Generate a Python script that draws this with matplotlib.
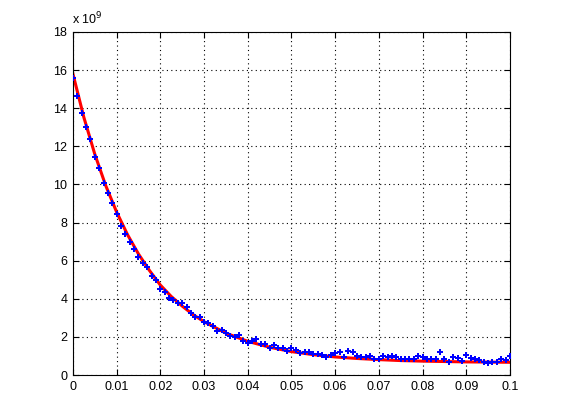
import matplotlib
matplotlib.use('Agg')
import matplotlib.pyplot as plt
import numpy as np

# measured points (values in units of 1e9)
x_data = np.arange(101) * 0.001
y_data = [15.6, 14.65, 13.73, 13.03, 12.38, 11.44, 10.84, 10.10, 9.53, 9.05,
          8.44, 7.83, 7.38, 6.99, 6.63, 6.17, 5.89, 5.68, 5.21, 4.98,
          4.51, 4.34, 4.06, 3.94, 3.79, 3.76, 3.58, 3.24, 3.06, 3.03,
          2.80, 2.71, 2.59, 2.31, 2.34, 2.19, 2.05, 2.01, 2.08, 1.78,
          1.68, 1.78, 1.88, 1.61, 1.61, 1.40, 1.59, 1.40, 1.40, 1.28,
          1.40, 1.31, 1.14, 1.19, 1.19, 1.10, 1.10, 1.05, 0.96, 1.03,
          1.14, 1.22, 0.93, 1.28, 1.19, 1.00, 0.93, 0.93, 1.00, 0.86,
          0.86, 1.00, 0.93, 0.98, 0.93, 0.84, 0.86, 0.84, 0.84, 1.00,
          0.93, 0.86, 0.84, 0.84, 1.21, 0.84, 0.67, 0.96, 0.88, 0.73,
          1.03, 0.88, 0.84, 0.79, 0.67, 0.61, 0.70, 0.67, 0.82, 0.79,
          1.00]

# fitted curve
x_fit = [0, 0.0025, 0.005, 0.0075, 0.01, 0.0125, 0.015, 0.0175, 0.02, 0.0225,
         0.025, 0.0275, 0.03, 0.035, 0.04, 0.045, 0.05, 0.055, 0.06, 0.065,
         0.07, 0.075, 0.08, 0.085, 0.09, 0.095, 0.1]
y_fit = [15.8, 13.52, 11.59, 9.94, 8.55, 7.36, 6.35, 5.49, 4.72, 4.12,
         3.62, 3.17, 2.80, 2.20, 1.77, 1.46, 1.23, 1.07, 0.95, 0.87,
         0.81, 0.76, 0.73, 0.71, 0.69, 0.68, 0.67]

x_ticks = [0, 0.01, 0.02, 0.03, 0.04, 0.05, 0.06, 0.07, 0.08, 0.09, 0.1]
x_labels = ['0', '0.01', '0.02', '0.03', '0.04', '0.05', '0.06', '0.07', '0.08', '0.09', '0.1']
y_ticks = [0, 2, 4, 6, 8, 10, 12, 14, 16, 18]

plt.rcParams['font.family'] = ['Liberation Sans', 'DejaVu Sans']

fig = plt.figure(figsize=(5.61, 4.2), dpi=100)
ax = fig.add_axes([0.130, 0.107, 0.779, 0.817])

ax.plot(x_fit, y_fit, color='red', linewidth=2.2, zorder=2)
ax.plot(x_data, y_data, linestyle='none', marker='P', markersize=4.8,
        color='blue', markeredgewidth=0, zorder=3)

ax.set_xlim(0, 0.1)
ax.set_ylim(0, 18)
ax.set_xticks(x_ticks)
ax.set_xticklabels(x_labels)
ax.set_yticks(y_ticks)
ax.tick_params(direction='in', top=True, right=True, labelsize=9, length=4, pad=4)
ax.grid(True, linestyle=(0, (1, 3)), color='black', linewidth=0.8)
for s in ax.spines.values():
    s.set_linewidth(0.8)

fig.text(0.128, 0.935, r'x 10$^{9}$', fontsize=9, ha='left', va='bottom')

fig.savefig('out.png', dpi=100)
